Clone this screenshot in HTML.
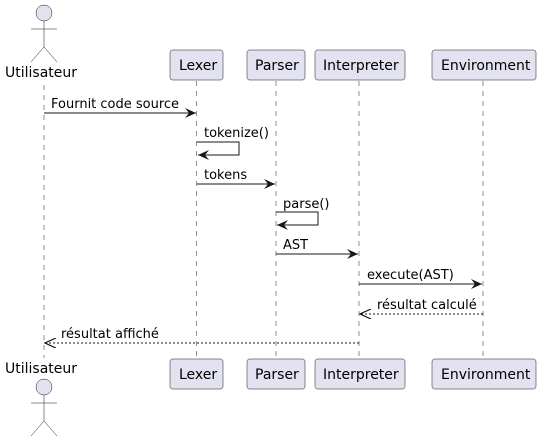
<!DOCTYPE html><html><head><style>body{margin:0;background:#fff}svg{display:block}text{font-family:"DejaVu Sans",sans-serif;font-size:13px;fill:#000}.b{font-size:14px}</style></head><body>
<svg width="541" height="440" xmlns="http://www.w3.org/2000/svg">
<defs><marker id="a" markerWidth="12" markerHeight="10" refX="11" refY="5" orient="auto" markerUnits="userSpaceOnUse"><path d="M0,0 L11,5 L0,10 L4,5 Z" fill="#181818"/></marker>
<marker id="o" markerWidth="12" markerHeight="10" refX="11" refY="5" orient="auto" markerUnits="userSpaceOnUse"><path d="M0,0 L11,5 L0,10" fill="none" stroke="#181818" stroke-width="1.2"/></marker></defs>
<g stroke="#181818" stroke-width="0.5" stroke-dasharray="5,5">
<line x1="44" y1="85" x2="44" y2="358"/><line x1="196.5" y1="81" x2="196.5" y2="359"/><line x1="276" y1="81" x2="276" y2="359"/><line x1="359" y1="81" x2="359" y2="359"/><line x1="483" y1="81" x2="483" y2="359"/></g>
<g fill="#E2E2F0" stroke="#181818" stroke-width="0.5">
<rect x="170" y="50" width="53" height="30" rx="2.5"/><rect x="247" y="50" width="58" height="30" rx="2.5"/><rect x="315" y="50" width="90" height="30" rx="2.5"/><rect x="432" y="50" width="104" height="30" rx="2.5"/>
<rect x="170" y="359" width="53" height="30" rx="2.5"/><rect x="247" y="359" width="58" height="30" rx="2.5"/><rect x="315" y="359" width="90" height="30" rx="2.5"/><rect x="432" y="359" width="104" height="30" rx="2.5"/>
<circle cx="44" cy="13" r="8"/><circle cx="44" cy="387" r="8"/></g>
<g stroke="#181818" stroke-width="0.5" fill="none">
<path d="M44,21 V47 M31,29 H57 M31,62 L44,47 L57,62"/><path d="M44,395 V421 M31,403 H57 M31,436 L44,421 L57,436"/></g>
<g class="b"><text x="179" y="70" class="b">Lexer</text><text x="255" y="70" class="b">Parser</text><text x="323" y="70" class="b">Interpreter</text><text x="441" y="70" class="b">Environment</text>
<text x="179" y="379" class="b">Lexer</text><text x="255" y="379" class="b">Parser</text><text x="323" y="379" class="b">Interpreter</text><text x="441" y="379" class="b">Environment</text>
<text x="5" y="77" class="b">Utilisateur</text><text x="5" y="373" class="b">Utilisateur</text></g>
<g stroke="#181818" stroke-width="1" fill="none">
<line x1="44" y1="113" x2="196" y2="113" marker-end="url(#a)"/>
<path d="M197,142 H239 V155 H198" marker-end="url(#a)"/>
<line x1="197" y1="184" x2="275" y2="184" marker-end="url(#a)"/>
<path d="M276,212 H318 V225 H277" marker-end="url(#a)"/>
<line x1="276" y1="254" x2="358" y2="254" marker-end="url(#a)"/>
<line x1="359" y1="284" x2="482" y2="284" marker-end="url(#a)"/>
<line x1="483" y1="314" x2="360" y2="314" stroke-dasharray="2,2" marker-end="url(#o)"/>
<line x1="359" y1="343" x2="45" y2="343" stroke-dasharray="2,2" marker-end="url(#o)"/>
</g>
<text x="51" y="108">Fournit code source</text><text x="204" y="137">tokenize()</text><text x="204" y="179">tokens</text><text x="283" y="208">parse()</text><text x="283" y="249">AST</text><text x="367" y="279">execute(AST)</text><text x="377" y="309">résultat calculé</text><text x="61" y="338">résultat affiché</text>
</svg></body></html>
